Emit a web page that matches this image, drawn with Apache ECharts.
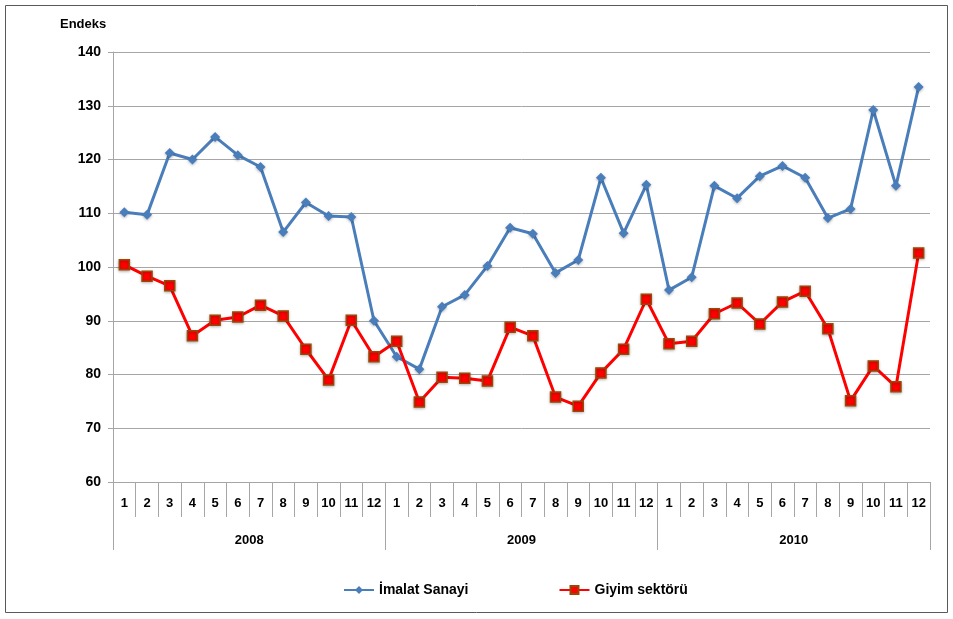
<!DOCTYPE html>
<html lang="tr">
<head>
  <meta charset="UTF-8">
  <title>Endeks</title>
  <script src="https://cdn.jsdelivr.net/npm/echarts@6/dist/echarts.min.js"></script>
  <style>
    body { margin: 0; padding: 0; background: #fff; }
    #main { width: 953px; height: 619px; }
  </style>
</head>
<body>
<div id="main"></div>
<script>
  // veriler
  var years = ['2008', '2009', '2010'];
  var months = [];
  years.forEach(function () {
    for (var m = 1; m <= 12; m++) months.push(String(m));
  });
  var imalat = [110.2, 109.7, 121.2, 120.0, 124.2, 120.8, 118.6, 106.5, 112.0, 109.5, 109.3, 90.0,
                83.3, 81.0, 92.6, 94.8, 100.2, 107.3, 106.2, 98.9, 101.3, 116.6, 106.3, 115.3,
                95.7, 98.1, 115.1, 112.8, 116.9, 118.8, 116.6, 109.1, 110.8, 129.2, 115.1, 133.5];
  var giyim = [100.4, 98.3, 96.5, 87.2, 90.1, 90.7, 92.9, 90.9, 84.7, 79.0, 90.1, 83.3,
               86.2, 74.9, 79.5, 79.3, 78.8, 88.8, 87.2, 75.8, 74.1, 80.3, 84.7, 94.0,
               85.7, 86.2, 91.3, 93.3, 89.4, 93.5, 95.5, 88.5, 75.1, 81.6, 77.7, 102.6];
  var yTicks = { min: 60, max: 140, step: 10 };

  var font = 'Liberation Sans';
  var chart = echarts.init(document.getElementById('main'));

  var option = {
    backgroundColor: '#fff',
    animation: false,
    textStyle: { fontFamily: font },
    title: {
      text: 'Endeks',
      left: 55,
      top: 13,
      textStyle: { fontSize: 13, fontWeight: 'bold', color: '#000', fontFamily: font }
    },
    graphic: [{
      type: 'rect',
      shape: { x: 5.5, y: 5.5, width: 942, height: 607 },
      style: { fill: null, stroke: '#595959', lineWidth: 1 },
      silent: true
    }],
    legend: {
      bottom: 17,
      left: 338,
      itemGap: 90,
      itemWidth: 30,
      itemHeight: 10,
      textStyle: { fontSize: 14, fontWeight: 'bold', color: '#000', fontFamily: font },
      data: ['İmalat Sanayi', 'Giyim sektörü']
    },
    grid: { left: 113, right: 23, top: 52, bottom: 137 },
    xAxis: [
      {
        type: 'category',
        data: months,
        boundaryGap: true,
        axisLine: { show: true, lineStyle: { color: '#a6a6a6', width: 1 } },
        axisTick: { show: true, interval: 0, length: 35, lineStyle: { color: '#a6a6a6' } },
        axisLabel: { interval: 0, margin: 15, fontSize: 13, fontWeight: 'bold', color: '#000', fontFamily: font },
        splitLine: { show: false }
      },
      {
        type: 'category',
        data: years,
        position: 'bottom',
        offset: 35,
        boundaryGap: true,
        axisLine: { show: false },
        axisTick: { show: true, interval: 0, length: 33, lineStyle: { color: '#a6a6a6' } },
        axisLabel: { interval: 0, margin: 17, fontSize: 13, fontWeight: 'bold', color: '#000', fontFamily: font },
        splitLine: { show: false }
      }
    ],
    yAxis: {
      type: 'value',
      min: yTicks.min,
      max: yTicks.max,
      interval: yTicks.step,
      axisLine: { show: true, lineStyle: { color: '#a6a6a6' } },
      axisTick: { show: true, length: 5, inside: false, lineStyle: { color: '#a6a6a6' } },
      axisLabel: { margin: 12, fontSize: 14, fontWeight: 'bold', color: '#000', fontFamily: font },
      splitLine: { show: true, lineStyle: { color: '#a6a6a6', width: 1 } }
    },
    series: [
      {
        name: 'İmalat Sanayi',
        type: 'line',
        xAxisIndex: 0,
        data: imalat,
        symbol: 'diamond',
        symbolSize: 10,
        lineStyle: { color: '#4a7ebb', width: 3 },
        itemStyle: { color: '#4a7ebb', shadowColor: 'rgba(0,0,0,0.3)', shadowBlur: 3, shadowOffsetY: 1 }
      },
      {
        name: 'Giyim sektörü',
        type: 'line',
        xAxisIndex: 0,
        data: giyim,
        symbol: 'rect',
        symbolSize: 10,
        lineStyle: { color: '#ff0000', width: 3 },
        itemStyle: { color: '#ff0000', borderColor: '#984807', borderWidth: 1.5, shadowColor: 'rgba(0,0,0,0.3)', shadowBlur: 3, shadowOffsetY: 1 }
      }
    ]
  };

  chart.setOption(option);
</script>
</body>
</html>
